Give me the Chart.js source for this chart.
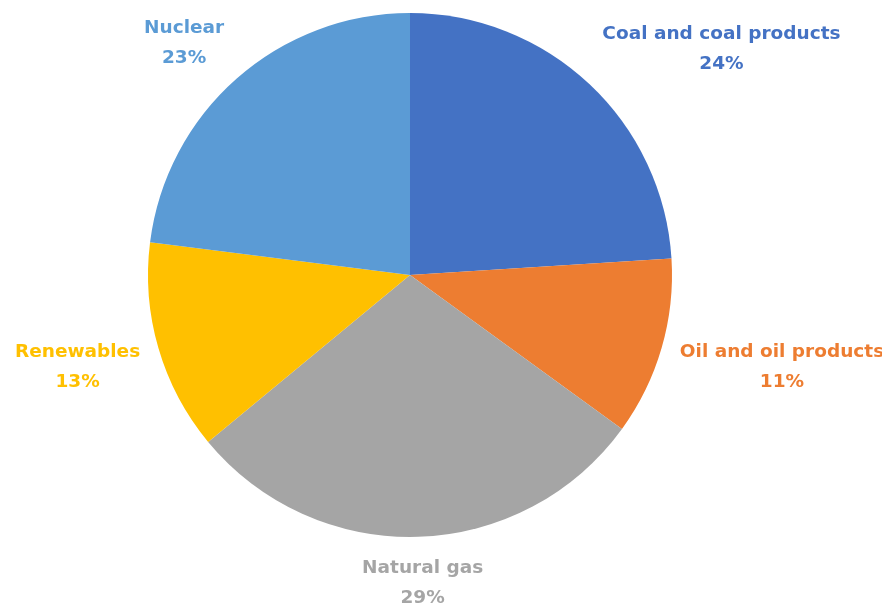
<!DOCTYPE html>
<html>
<head>
<meta charset="utf-8">
<script src="https://cdn.jsdelivr.net/npm/chart.js@4"></script>
<style>
  html, body { margin: 0; padding: 0; background: #fff; }
  #wrap { width: 882px; height: 605px; }
</style>
</head>
<body>
<div id="wrap"><canvas id="pie"></canvas></div>
<script>
const categories = ['Coal and coal products', 'Oil and oil products', 'Natural gas', 'Renewables', 'Nuclear'];
const shares = [24, 11, 29, 13, 23];
const sliceColors = ['#4472C4', '#ED7D31', '#A5A5A5', '#FFC000', '#5B9BD5'];

// outside labels, Excel "best fit" style
const outsideLabels = {
    id: 'outsideLabels',
    afterDatasetsDraw(chart) {
        const ctx = chart.ctx;
        const meta = chart.getDatasetMeta(0);
        ctx.save();
        ctx.font = 'bold 18.5px "DejaVu Sans", sans-serif';
        ctx.textBaseline = 'middle';
        ctx.textAlign = 'center';
        const lineH = 30;
        meta.data.forEach((arc, i) => {
            const mid = (arc.startAngle + arc.endAngle) / 2;
            const r = arc.outerRadius + 19;
            const ax = arc.x + Math.cos(mid) * r;
            const ay = arc.y + Math.sin(mid) * r + 3;
            const lines = [categories[i], shares[i] + '%'];
            const w = Math.max(...lines.map(l => ctx.measureText(l).width));
            const h = lineH * 2;
            const c = Math.cos(mid), s = Math.sin(mid);
            const sx = Math.abs(c) > 0.5 ? Math.sign(c) : c * 2;
            const sy = Math.abs(s) > 0.5 ? Math.sign(s) * 0.8 : s * 1.3;
            const cx = ax + sx * w / 2;
            const cy = ay + sy * h / 2;
            ctx.fillStyle = sliceColors[i];
            ctx.fillText(lines[0], cx, cy - lineH / 2);
            ctx.fillText(lines[1], cx, cy + lineH / 2);
        });
        ctx.restore();
    }
};

new Chart(document.getElementById('pie'), {
    type: 'pie',
    data: {
        labels: categories,
        datasets: [{
            data: shares,
            backgroundColor: sliceColors,
            borderWidth: 0
        }]
    },
    options: {
        responsive: true,
        maintainAspectRatio: false,
        animation: false,
        layout: {
            padding: { left: 148, right: 210, top: 13, bottom: 68 }
        },
        plugins: {
            legend: { display: false },
            tooltip: { enabled: false }
        }
    },
    plugins: [outsideLabels]
});
</script>
</body>
</html>
